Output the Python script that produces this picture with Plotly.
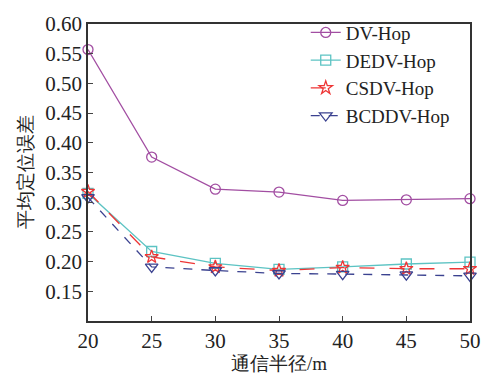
import plotly.graph_objects as go

radius = [20, 25, 30, 35, 40, 45, 50]
dv_hop = [0.557, 0.376, 0.322, 0.317, 0.303, 0.304, 0.306]
dedv_hop = [0.315, 0.217, 0.197, 0.187, 0.191, 0.196, 0.199]
csdv_hop = [0.318, 0.208, 0.191, 0.185, 0.190, 0.188, 0.188]
bcddv_hop = [0.308, 0.191, 0.185, 0.180, 0.179, 0.178, 0.176]

x_ticks = [20, 25, 30, 35, 40, 45, 50]
y_ticks = [0.15, 0.20, 0.25, 0.30, 0.35, 0.40, 0.45, 0.50, 0.55, 0.60]

FONT = "Liberation Serif"
TXT = "#222222"

series = [
    ("DV-Hop", dv_hop, "#a24ea2", "circle-open", "solid", 10),
    ("DEDV-Hop", dedv_hop, "#5cc3c3", "square-open", "solid", 10),
    ("CSDV-Hop", csdv_hop, "#ee3535", "star-open", "longdash", 10),
    ("BCDDV-Hop", bcddv_hop, "#3b4290", "triangle-down-open", "dash", 11),
]

fig = go.Figure()
for name, ys, color, sym, dash, size in series:
    fig.add_trace(go.Scatter(
        x=radius, y=ys, name=name, mode="lines+markers",
        line=dict(color=color, width=1.3, dash=dash),
        marker=dict(symbol=sym, size=size, color=color, line=dict(width=1.3, color=color)),
        cliponaxis=False,
    ))

fig.update_layout(
    width=493, height=382,
    margin=dict(l=88, r=14, t=13, b=60),
    paper_bgcolor="white", plot_bgcolor="white",
    font=dict(family=FONT, size=20, color=TXT),
    legend=dict(x=0.57, y=1.035, xanchor="left", yanchor="top",
                bgcolor="rgba(0,0,0,0)", font=dict(family=FONT, size=19, color=TXT),
                itemwidth=30, tracegroupgap=0),
    showlegend=True,
)
fig.update_xaxes(
    range=[20, 50], tickvals=x_ticks, ticks="inside", ticklen=5,
    showline=True, linecolor="#333", linewidth=1.5, mirror=True,
    showgrid=False, zeroline=False,
    title=dict(text="通信半径/m", font=dict(family=FONT, size=19, color=TXT), standoff=4),
    tickfont=dict(family=FONT, size=21, color=TXT),
)
fig.update_yaxes(
    range=[0.10, 0.60], tickvals=y_ticks, tickformat=".2f",
    ticks="inside", ticklen=5,
    showline=True, linecolor="#333", linewidth=1.5, mirror=True,
    showgrid=False, zeroline=False,
    title=dict(text="平均定位误差", font=dict(family=FONT, size=19, color=TXT), standoff=8),
    tickfont=dict(family=FONT, size=21, color=TXT),
)

fig.write_html("out.html")
